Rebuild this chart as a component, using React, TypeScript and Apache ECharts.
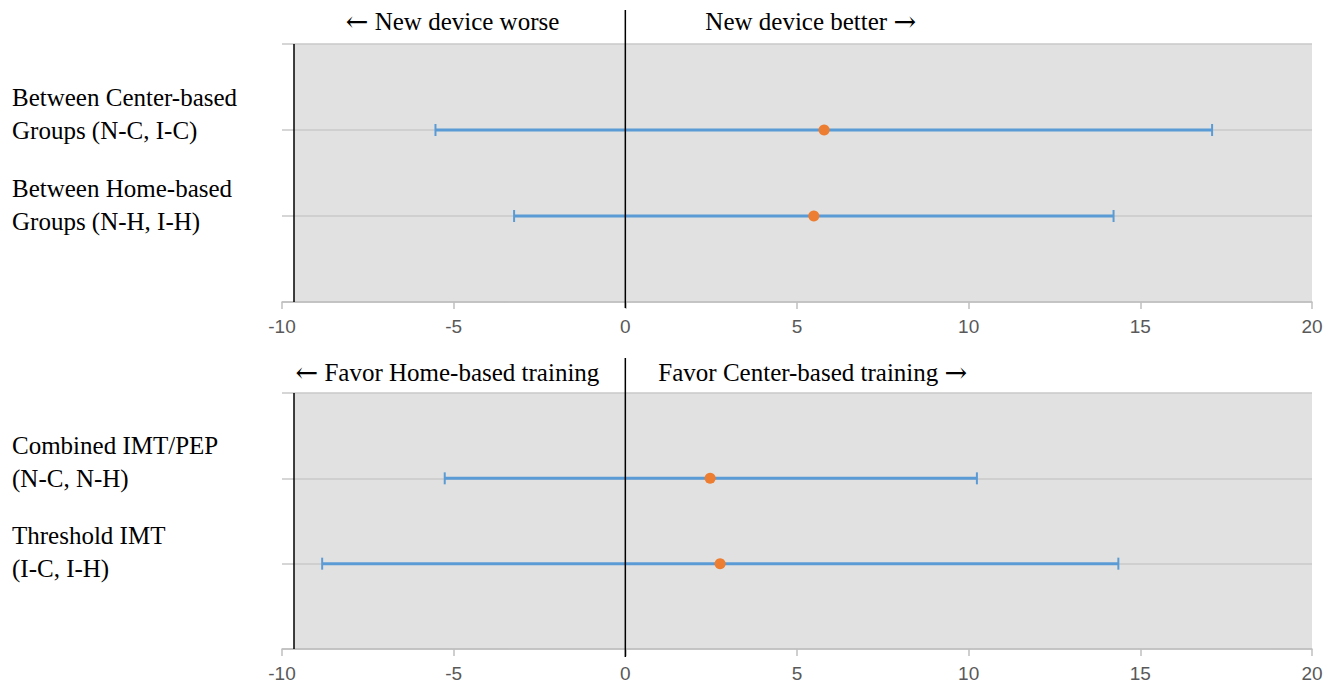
import React, { useEffect, useRef } from "react";
import * as echarts from "echarts";

const xMin = -10;
const xMax = 20;
const xInterval = 5;

const topCategories = ["Between Center-based\nGroups (N-C, I-C)", "Between Home-based\nGroups (N-H, I-H)"];
const topMeans = [5.79, 5.49];
const topLower = [-5.53, -3.24];
const topUpper = [17.09, 14.22];
const topHeaders = ["{a|\u2190} New device worse", "New device better {a|\u2192}"];

const bottomCategories = ["Combined IMT/PEP\n(N-C, N-H)", "Threshold IMT\n(I-C, I-H)"];
const bottomMeans = [2.47, 2.76];
const bottomLower = [-5.26, -8.83];
const bottomUpper = [10.24, 14.36];
const bottomHeaders = ["{a|\u2190} Favor Home-based training", "Favor Center-based training {a|\u2192}"];

const refLineX = -9.65;

const SERIF = "'Liberation Serif', 'Times New Roman', serif";
const SANS = "'Liberation Sans', Arial, sans-serif";
const ARROW = "'DejaVu Serif', 'DejaVu Sans', serif";

export default function App() {
  const ref = useRef<HTMLDivElement>(null);

  useEffect(() => {
    if (!ref.current) return;
    const chart = echarts.init(ref.current, null, { renderer: "svg" });

    const panels = [
      { cats: topCategories, means: topMeans, lo: topLower, hi: topUpper, top: 44, height: 258 },
      { cats: bottomCategories, means: bottomMeans, lo: bottomLower, hi: bottomUpper, top: 393, height: 256 },
    ];
    // small downward drift of the category text blocks (px) for each row
    const labelDrift = [0, 5];

    const grids: any[] = [];
    const xAxes: any[] = [];
    const yAxes: any[] = [];
    const series: any[] = [];

    panels.forEach((p, g) => {
      const n = p.cats.length;
      grids.push({ left: 282, top: p.top, width: 1030, height: p.height });
      xAxes.push({
        type: "value",
        gridIndex: g,
        min: xMin,
        max: xMax,
        interval: xInterval,
        z: 2,
        axisLine: { show: true, onZero: false, lineStyle: { color: "#bfbfbf", width: 1.5 } },
        axisTick: { show: true, length: 7, lineStyle: { color: "#bfbfbf", width: 1.5 } },
        axisLabel: { fontFamily: SANS, fontSize: 19, color: "#595959", margin: 15 },
        splitLine: { show: false },
      });
      const rich: any = { l: { fontFamily: SERIF, fontSize: 25, color: "#000", lineHeight: 33 } };
      labelDrift.forEach((d, i) => {
        rich["t" + i] = { fontSize: 10, lineHeight: 33 - 2 * d };
      });
      yAxes.push({
        type: "value",
        gridIndex: g,
        min: 0,
        max: n + 1,
        interval: 1,
        z: 2,
        axisLine: { show: false },
        axisTick: { show: false },
        splitLine: { show: true, lineStyle: { color: "#c9c9c9", width: 1.5 } },
        axisLabel: {
          formatter: (v: number) => {
            const i = n - v;
            if (!(i >= 0 && i < n)) return "";
            const lines = p.cats[i].split("\n").map((s) => `{l|${s}}`);
            // trailing spacer line keeps the second text line on the row
            return lines.join("\n") + `\n{t${i}| }`;
          },
          align: "left",
          margin: 270,
          verticalAlign: "middle",
          rich,
        },
      });
      // background + reference line
      series.push({
        type: "scatter",
        xAxisIndex: g,
        yAxisIndex: g,
        data: [],
        silent: true,
        markArea: {
          silent: true,
          itemStyle: { color: "#e1e1e1" },
          data: [[{ xAxis: refLineX, yAxis: 0 }, { xAxis: xMax, yAxis: n + 1 }]],
        },
        markLine: {
          silent: true,
          symbol: "none",
          label: { show: false },
          lineStyle: { color: "#000", width: 1.5, type: "solid" },
          data: [{ xAxis: refLineX }],
        },
      });
      // error bars
      series.push({
        type: "custom",
        xAxisIndex: g,
        yAxisIndex: g,
        z: 3,
        encode: { x: [0, 2], y: 1 },
        data: p.cats.map((_, i) => [p.lo[i], n - i, p.hi[i]]),
        renderItem: (params: any, api: any) => {
          const y = api.value(1);
          const a = api.coord([api.value(0), y]);
          const b = api.coord([api.value(2), y]);
          const h = 6;
          const col = "#5b9bd5";
          return {
            type: "group",
            children: [
              { type: "line", shape: { x1: a[0], y1: a[1], x2: b[0], y2: b[1] }, style: { stroke: col, lineWidth: 3 } },
              { type: "line", shape: { x1: a[0], y1: a[1] - h, x2: a[0], y2: a[1] + h }, style: { stroke: col, lineWidth: 2 } },
              { type: "line", shape: { x1: b[0], y1: b[1] - h, x2: b[0], y2: b[1] + h }, style: { stroke: col, lineWidth: 2 } },
            ],
          };
        },
      });
      // means
      series.push({
        type: "scatter",
        xAxisIndex: g,
        yAxisIndex: g,
        z: 4,
        symbol: "circle",
        symbolSize: 11,
        itemStyle: { color: "#ed7d31", opacity: 1 },
        data: p.means.map((m, i) => [m, n - i]),
      });
    });

    chart.setOption({
      animation: false,
      backgroundColor: "#ffffff",
      grid: grids,
      xAxis: xAxes,
      yAxis: yAxes,
      series,
    });

    const headerSets = [
      { texts: topHeaders, leftGap: 66, rightGap: 80, above: 34, below: 6, textDy: 23 },
      { texts: bottomHeaders, leftGap: 26, rightGap: 33, above: 35, below: 8, textDy: 21 },
    ];
    const rich = { a: { font: `27px ${ARROW}`, fill: "#000" } };
    const graphics: any[] = [];
    panels.forEach((p, g) => {
      const n = p.cats.length;
      const pt = chart.convertToPixel({ gridIndex: g } as any, [0, n + 1]) as number[];
      const pb = chart.convertToPixel({ gridIndex: g } as any, [0, 0]) as number[];
      const hs = headerSets[g];
      graphics.push({
        type: "line",
        z: 10,
        silent: true,
        shape: { x1: pt[0], y1: pt[1] - hs.above, x2: pt[0], y2: pb[1] + hs.below },
        style: { stroke: "#000", lineWidth: 1.5 },
      });
      graphics.push({
        type: "text",
        z: 10,
        x: pt[0] - hs.leftGap,
        y: pt[1] - hs.textDy,
        style: { text: hs.texts[0], rich, font: `25px ${SERIF}`, fill: "#000", align: "right", verticalAlign: "middle" },
      });
      graphics.push({
        type: "text",
        z: 10,
        x: pt[0] + hs.rightGap,
        y: pt[1] - hs.textDy,
        style: { text: hs.texts[1], rich, font: `25px ${SERIF}`, fill: "#000", align: "left", verticalAlign: "middle" },
      });
    });
    chart.setOption({ graphic: graphics });

    return () => chart.dispose();
  }, []);

  return (
    <div
      ref={ref}
      style={{ position: "fixed", left: 0, top: 0, width: 1336, height: 689, background: "#fff" }}
    />
  );
}
